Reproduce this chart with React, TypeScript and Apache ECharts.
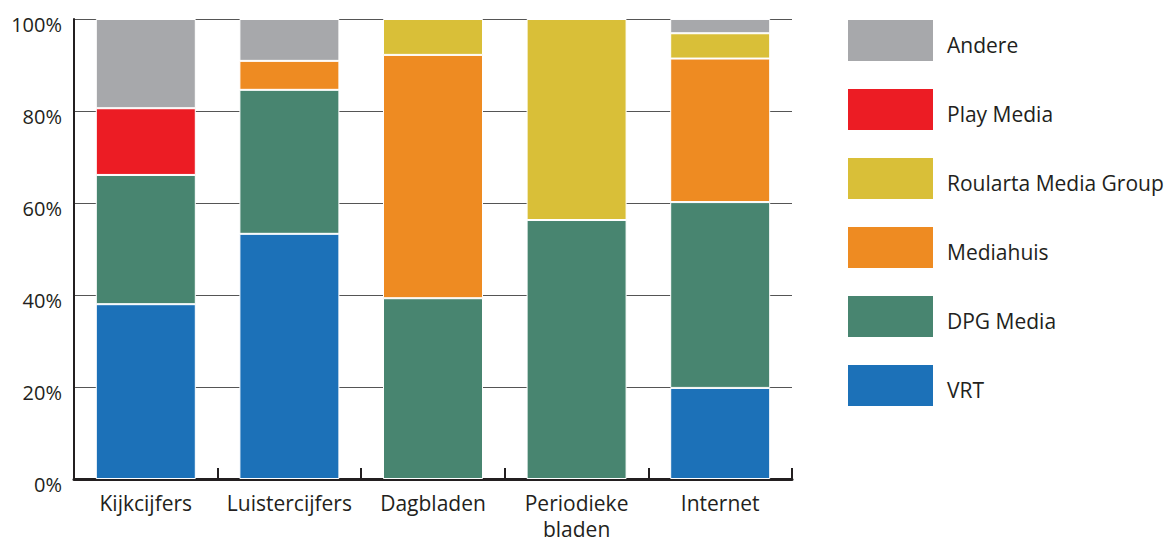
import React, { useEffect, useRef } from "react";
import * as echarts from "echarts";

const categories = ["Kijkcijfers", "Luistercijfers", "Dagbladen", "Periodieke\nbladen", "Internet"];
const seriesNames = ["VRT", "DPG Media", "Mediahuis", "Roularta Media Group", "Play Media", "Andere"];
const vrt = [38, 53.3, null, null, 19.8];
const dpg = [28.1, 31.3, 39.3, 56.3, 40.4];
const mediahuis = [null, 6.3, 52.9, null, 31.2];
const roularta = [null, null, 7.8, 43.7, 5.5];
const playMedia = [14.5, null, null, null, null];
const andere = [19.4, 9.1, null, null, 3.1];
const seriesValues = [vrt, dpg, mediahuis, roularta, playMedia, andere];
const colors = ["#1c71b8", "#488570", "#ee8b22", "#d9bf38", "#ec1c24", "#a7a8ab"];
const legendOrder = ["Andere", "Play Media", "Roularta Media Group", "Mediahuis", "DPG Media", "VRT"];
const yTicks = [0, 20, 40, 60, 80, 100];

const FONT = "'Open Sans', sans-serif";
const TXT = "#231f20";

export default function App() {
  const ref = useRef<HTMLDivElement>(null);
  useEffect(() => {
    if (!ref.current) return;
    const chart = echarts.init(ref.current, undefined, { renderer: "svg" });
    chart.setOption({
      animation: false,
      textStyle: { fontFamily: FONT },
      grid: { left: 74, right: 376, top: 19, bottom: 63, containLabel: false, outerBoundsMode: "none" },
      legend: {
        orient: "vertical",
        left: 846,
        top: 18,
        padding: 0,
        itemWidth: 87,
        itemHeight: 43,
        itemGap: 24,
        icon: "rect",
        data: legendOrder,
        selectedMode: false,
        formatter: "{a|{name}}",
        textStyle: {
          fontSize: 21,
          color: TXT,
          fontFamily: FONT,
          rich: {
            a: { fontSize: 21, color: TXT, fontFamily: FONT, padding: [8, 0, 0, 8] },
          },
        },
      },
      xAxis: {
        type: "category",
        data: categories,
        axisLine: { show: true, lineStyle: { color: TXT, width: 3 } },
        axisTick: { show: true, inside: true, length: 11, lineStyle: { color: TXT, width: 2 } },
        axisLabel: { interval: 0, fontSize: 21, color: TXT, margin: 11, lineHeight: 26, fontFamily: FONT },
      },
      yAxis: {
        type: "value",
        min: 0,
        max: 100,
        interval: 20,
        axisLine: { show: true, lineStyle: { color: TXT, width: 2 } },
        axisTick: { show: false },
        splitLine: { show: true, lineStyle: { color: "#555", width: 1 } },
        axisLabel: {
          fontSize: 20,
          color: TXT,
          margin: 12,
          verticalAlign: "top",
          lineHeight: 10,
          fontFamily: FONT,
          formatter: (v: number) => (yTicks.includes(v) ? v + "%" : ""),
        },
      },
      series: seriesNames.map((name, i) => ({
        name,
        type: "bar",
        stack: "total",
        barWidth: 100,
        data: seriesValues[i].map((v) => (v == null ? "-" : v)),
        itemStyle: { color: colors[i], borderColor: "#fff", borderWidth: 1 },
      })),
    });
    return () => chart.dispose();
  }, []);
  return <div ref={ref} style={{ width: 1168, height: 542, position: "absolute", left: 0, top: 0 }} />;
}
